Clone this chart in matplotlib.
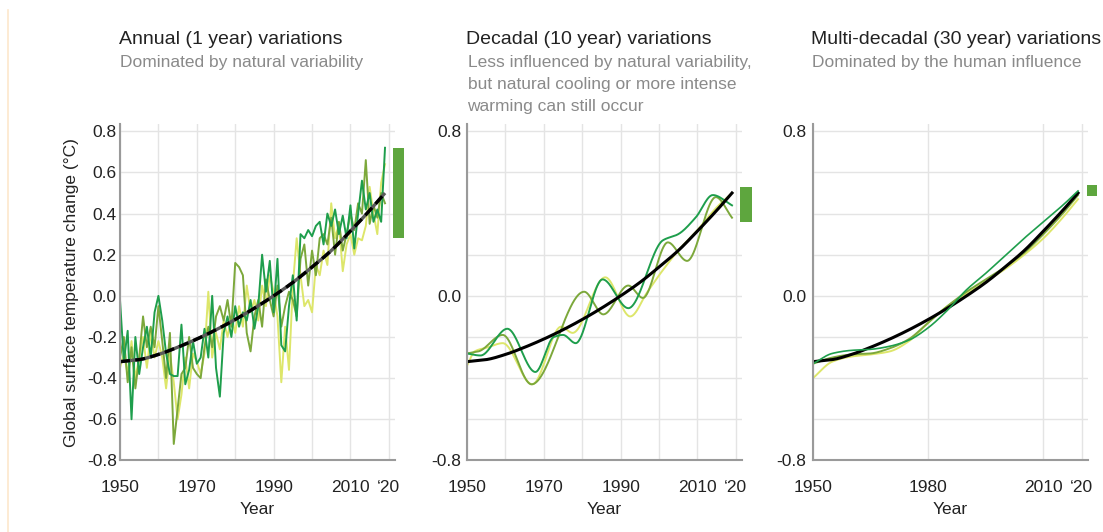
import numpy as np
import matplotlib
matplotlib.use("Agg")
import matplotlib.pyplot as plt
from matplotlib.lines import Line2D
from matplotlib.patches import Rectangle

plt.rcParams["font.family"] = ["Liberation Sans", "DejaVu Sans"]

# ---------------------------------------------------------------- data
years = np.arange(1950, 2020)

annual_dark = [
    -0.02, -0.32, -0.17, -0.60, -0.20, -0.38, -0.25, -0.15, -0.30, -0.08,
    0.00, -0.12, -0.28, -0.38, -0.39, -0.39, -0.14, -0.43, -0.36, -0.22,
    -0.33, -0.30, -0.16, -0.30, 0.00, -0.35, -0.49, -0.18, -0.10, -0.20,
    -0.05, -0.15, -0.08, -0.12, -0.02, -0.16, -0.05, 0.20, 0.02, 0.17,
    -0.08, 0.18, -0.24, -0.27, -0.05, 0.10, -0.12, 0.30, 0.28, 0.32,
    0.29, 0.34, 0.36, 0.25, 0.40, 0.34, 0.42, 0.30, 0.39, 0.28,
    0.44, 0.23, 0.40, 0.56, 0.42, 0.50, 0.36, 0.42, 0.36, 0.72,
]
annual_olive = [
    -0.30, -0.20, -0.42, -0.25, -0.45, -0.30, -0.10, -0.25, -0.15, -0.25,
    -0.05, -0.22, -0.40, -0.18, -0.72, -0.55, -0.38, -0.35, -0.20, -0.35,
    -0.38, -0.40, -0.25, -0.15, -0.25, -0.10, -0.05, -0.12, -0.02, -0.15,
    0.16, 0.14, 0.10, -0.18, -0.27, -0.10, -0.02, -0.15, 0.08, -0.02,
    -0.10, 0.05, -0.15, -0.05, 0.02, -0.02, -0.10, 0.18, 0.25, 0.05,
    0.22, 0.10, 0.28, 0.30, 0.25, 0.38, 0.20, 0.36, 0.22, 0.30,
    0.40, 0.32, 0.45, 0.40, 0.66, 0.35, 0.44, 0.38, 0.50, 0.45,
]
annual_yellow = [
    -0.35, -0.28, -0.38, -0.22, -0.40, -0.30, -0.20, -0.35, -0.18, -0.30,
    -0.22, -0.30, -0.45, -0.28, -0.42, -0.60, -0.48, -0.30, -0.45, -0.28,
    -0.32, -0.38, -0.28, 0.02, -0.30, -0.18, -0.26, -0.12, -0.20, -0.10,
    -0.18, -0.05, -0.15, 0.05, -0.08, -0.02, -0.12, 0.05, -0.05, 0.10,
    0.02, -0.10, -0.42, -0.15, -0.36, 0.05, 0.28, 0.10, -0.05, -0.02,
    -0.08, 0.15, 0.10, 0.22, 0.15, 0.45, 0.28, 0.35, 0.12, 0.25,
    0.30, 0.20, 0.28, 0.27, 0.34, 0.53, 0.40, 0.30, 0.55, 0.64,
]

# long-term trend common to all panels
trend_years = [1950, 1955, 1960, 1965, 1970, 1975, 1980, 1985, 1990,
               1995, 2000, 2005, 2010, 2015, 2019]
trend_vals = [-0.32, -0.31, -0.285, -0.25, -0.21, -0.165, -0.115, -0.06, 0.0,
              0.065, 0.14, 0.22, 0.315, 0.415, 0.50]

# decadal (10 year) series
dec_dark_years = [1950, 1953.5, 1960.5, 1967.8, 1972.6, 1975, 1978.3, 1985.3,
                  1992, 2001, 2005, 2009.5, 2014, 2019]
dec_dark_vals = [-0.28, -0.29, -0.16, -0.37, -0.20, -0.19, -0.23, 0.08,
                 -0.06, 0.27, 0.30, 0.38, 0.49, 0.44]
dec_olive_years = [1950, 1953, 1959.3, 1966.8, 1980.5, 1985.5, 1992, 1995.8,
                   2002.3, 2007.3, 2014.8, 2019]
dec_olive_vals = [-0.28, -0.27, -0.19, -0.43, 0.02, -0.09, 0.05, -0.01,
                  0.26, 0.17, 0.48, 0.38]
dec_yellow_years = [1950, 1952, 1955.5, 1959.3, 1967, 1974.5, 1977.5, 1986,
                    1992.5, 1997, 2000, 2005, 2010, 2015, 2019]
dec_yellow_vals = [-0.34, -0.27, -0.25, -0.23, -0.43, -0.15, -0.18, 0.09,
                   -0.10, 0.02, 0.10, 0.22, 0.32, 0.43, 0.50]

# multi-decadal (30 year) series
md_years = [1950, 1955, 1960, 1965, 1970, 1975, 1980, 1985, 1990,
            1995, 2000, 2005, 2010, 2015, 2019]
md_dark = [-0.33, -0.28, -0.265, -0.26, -0.245, -0.215, -0.155, -0.07, 0.03,
           0.11, 0.195, 0.28, 0.36, 0.44, 0.51]
md_olive = [-0.33, -0.30, -0.285, -0.28, -0.255, -0.21, -0.13, -0.05, 0.02,
            0.08, 0.14, 0.21, 0.30, 0.40, 0.49]
md_yellow = [-0.40, -0.32, -0.295, -0.285, -0.27, -0.22, -0.13, -0.05, 0.01,
             0.07, 0.13, 0.20, 0.28, 0.38, 0.47]

# range bars at the right of each panel (low, high)
bar_low = [0.28, 0.36, 0.485]
bar_high = [0.72, 0.53, 0.54]

titles = ["Annual (1 year) variations",
          "Decadal (10 year) variations",
          "Multi-decadal (30 year) variations"]
subtitles = [["Dominated by natural variability"],
             ["Less influenced by natural variability,",
              "but natural cooling or more intense",
              "warming can still occur"],
             ["Dominated by the human influence"]]
ylabel = "Global surface temperature change (°C)"

xticks_a = [1950, 1960, 1970, 1980, 1990, 2000, 2010, 2020]
xlabels_a = ["1950", "", "1970", "", "1990", "", "2010", "\u201820"]
xticks_c = [1950, 1980, 2010, 2020]
xlabels_c = ["1950", "1980", "2010", "\u201820"]
yticks = [-0.8, -0.6, -0.4, -0.2, 0.0, 0.2, 0.4, 0.6, 0.8]
ylabels_full = ["-0.8", "-0.6", "-0.4", "-0.2", "0.0", "0.2", "0.4", "0.6", "0.8"]
ylabels_sparse = ["-0.8", "", "", "", "0.0", "", "", "", "0.8"]

# ---------------------------------------------------------------- style
C_DARK = "#1e9e4c"
C_OLIVE = "#7ca83b"
C_YELLOW = "#dde66a"
C_BAR = "#5ea63e"
C_GRID = "#e4e4e4"
C_SPINE = "#9a9a9a"
C_TEXT = "#222222"
C_SUB = "#8a8a8a"
FS = 12.5


def pchip(x, y, n=400):
    """Shape-preserving cubic curve through the given points."""
    x = np.asarray(x, float)
    y = np.asarray(y, float)
    h = np.diff(x)
    d = np.diff(y) / h
    m = np.zeros_like(y)
    for k in range(1, len(x) - 1):
        if d[k - 1] * d[k] > 0:
            w1 = 2 * h[k] + h[k - 1]
            w2 = h[k] + 2 * h[k - 1]
            m[k] = (w1 + w2) / (w1 / d[k - 1] + w2 / d[k])
    m[0] = d[0]
    m[-1] = d[-1]
    xs = np.linspace(x[0], x[-1], n)
    idx = np.clip(np.searchsorted(x, xs) - 1, 0, len(h) - 1)
    t = (xs - x[idx]) / h[idx]
    h00 = 2 * t**3 - 3 * t**2 + 1
    h10 = t**3 - 2 * t**2 + t
    h01 = -2 * t**3 + 3 * t**2
    h11 = t**3 - t**2
    ys = (h00 * y[idx] + h10 * h[idx] * m[idx]
          + h01 * y[idx + 1] + h11 * h[idx] * m[idx + 1])
    return xs, ys


W, H = 1103, 532
fig = plt.figure(figsize=(W / 100, H / 100), dpi=100)
fig.patch.set_facecolor("white")

# faint page edge
fig.add_artist(Line2D([8 / W, 8 / W], [0, 1 - 10 / H], color="#fde8cc",
                      lw=1.2, transform=fig.transFigure))

lefts = [120, 467, 813]
ax_w = 274.8
ax_bottom = 460.4
ax_top = 123.9
ypads = [2.2, 4.3, 5.0]

axes = []
for i, lx in enumerate(lefts):
    ax = fig.add_axes([lx / W, 1 - ax_bottom / H, ax_w / W,
                       (ax_bottom - ax_top) / H])
    ax.set_xlim(1950, 2021.55)
    ax.set_ylim(-0.8, 0.836)
    ax.set_facecolor("none")
    for s in ["top", "right"]:
        ax.spines[s].set_visible(False)
    for s in ["left", "bottom"]:
        ax.spines[s].set_color(C_SPINE)
        ax.spines[s].set_linewidth(1.5)
        ax.spines[s].set_zorder(5)
    if i == 2:
        ax.set_xticks(xticks_c)
        ax.set_xticklabels(xlabels_c)
    else:
        ax.set_xticks(xticks_a)
        ax.set_xticklabels(xlabels_a)
    ax.set_yticks(yticks)
    ax.set_yticklabels(ylabels_full if i == 0 else ylabels_sparse)
    ax.tick_params(axis="both", length=0, labelsize=FS, colors=C_TEXT)
    ax.tick_params(axis="x", pad=14)
    ax.tick_params(axis="y", pad=ypads[i])
    ax.grid(True, color=C_GRID, lw=1.0, zorder=0)
    ax.set_axisbelow(True)
    ax.set_xlabel("Year", fontsize=FS, color=C_TEXT, labelpad=5.5)
    axes.append(ax)

# ---- annual panel
a0 = axes[0]
a0.plot(years, annual_yellow, color=C_YELLOW, lw=1.4, zorder=2)
a0.plot(years, annual_olive, color=C_OLIVE, lw=1.4, zorder=2)
a0.plot(years, annual_dark, color=C_DARK, lw=1.4, zorder=2)
tx, ty = pchip(trend_years, trend_vals)
a0.plot(tx, ty, color="#5a5a5a", lw=2.4, zorder=3, solid_capstyle="butt")
a0.plot(tx, ty, color="black", lw=2.4, zorder=3, dashes=(3.0, 1.6))
a0.set_ylabel(ylabel, fontsize=FS, color=C_TEXT, labelpad=6)

# ---- decadal panel
a1 = axes[1]
for yrs, vals, col in [(dec_yellow_years, dec_yellow_vals, C_YELLOW),
                       (dec_olive_years, dec_olive_vals, C_OLIVE),
                       (dec_dark_years, dec_dark_vals, C_DARK)]:
    sx, sy = pchip(yrs, vals)
    a1.plot(sx, sy, color=col, lw=1.4, zorder=2)
a1.plot(tx, ty, color="black", lw=2.2, zorder=3)

# ---- multi-decadal panel
a2 = axes[2]
for vals, col in [(md_yellow, C_YELLOW), (md_olive, C_OLIVE)]:
    sx, sy = pchip(md_years, vals)
    a2.plot(sx, sy, color=col, lw=1.4, zorder=2)
a2.plot(tx, ty, color="black", lw=2.2, zorder=3)
sx, sy = pchip(md_years, md_dark)
a2.plot(sx, sy, color=C_DARK, lw=1.2, zorder=4)

# ---- range bars
bar_x0 = [2021.1, 2021.1, 2021.4]
bar_w = [2.9, 3.1, 2.6]
for ax, lo, hi, x0, bw in zip(axes, bar_low, bar_high, bar_x0, bar_w):
    ax.add_patch(Rectangle((x0, lo), bw, hi - lo, facecolor=C_BAR,
                           edgecolor="none", clip_on=False, zorder=4))

# ---- titles
title_x = [119, 466, 811]
for tx_, t, subs in zip(title_x, titles, subtitles):
    fig.text(tx_ / W, 1 - 40 / H, t, fontsize=14, color=C_TEXT,
             ha="left", va="center")
    for k, s in enumerate(subs):
        fig.text((tx_ + 1.5) / W, 1 - (62 + 22 * k) / H, s, fontsize=FS,
                 color=C_SUB, ha="left", va="center")

fig.savefig("out.png", dpi=100, facecolor="white")
